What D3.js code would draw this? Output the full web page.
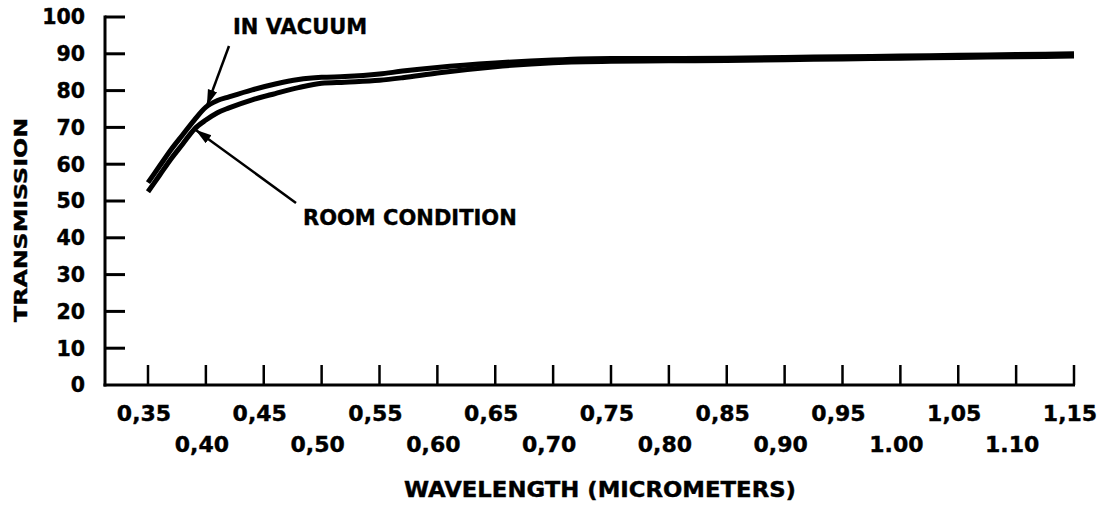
<!DOCTYPE html>
<html>
<head>
<meta charset="utf-8">
<script src="https://cdn.jsdelivr.net/npm/d3@7"></script>
<style>
  body { margin: 0; background: #fff; }
  text { font-family: "DejaVu Sans", sans-serif; font-weight: bold; fill: #000; stroke: #000; stroke-width: 0.4px; }
</style>
</head>
<body>
<div id="chart"></div>
<script>
// Wavelength samples (micrometers) and transmission (%)
var wavelengths = [0.35, 0.36, 0.37, 0.38, 0.39, 0.40, 0.41, 0.42, 0.44, 0.46, 0.48, 0.50, 0.52,
  0.55, 0.57, 0.60, 0.65, 0.70, 0.75, 0.80, 0.85, 0.90, 0.95, 1.00, 1.05, 1.10, 1.15];
var inVacuum = [55, 59.5, 64, 68, 72, 75.5, 77.3, 78.3, 80.2, 81.8, 83.0, 83.6, 83.8,
  84.5, 85.3, 86.3, 87.5, 88.3, 88.7, 88.7, 88.8, 89.0, 89.2, 89.4, 89.6, 89.8, 90.0];
var roomCondition = [52.5, 57, 61.5, 65.5, 69.5, 72, 74, 75.3, 77.5, 79.2, 80.8, 82.0, 82.3,
  82.8, 83.5, 84.8, 86.5, 87.6, 88.0, 88.1, 88.2, 88.4, 88.6, 88.8, 89.0, 89.2, 89.4];

var yTicks = [0, 10, 20, 30, 40, 50, 60, 70, 80, 90, 100];
var xTicks = [0.35, 0.40, 0.45, 0.50, 0.55, 0.60, 0.65, 0.70, 0.75, 0.80,
  0.85, 0.90, 0.95, 1.00, 1.05, 1.10, 1.15];
var xTickLabels = ["0,35", "0,40", "0,45", "0,50", "0,55", "0,60", "0,65", "0,70", "0,75", "0,80",
  "0,85", "0,90", "0,95", "1.00", "1,05", "1.10", "1,15"];

var svgWidth = 1109;
var svgHeight = 506;

var svg = d3.select("#chart")
  .append("svg")
  .attr("width", svgWidth)
  .attr("height", svgHeight);

// scales: pixel positions taken from the reference axes
var xScale = d3.scaleLinear()
  .domain([0.35, 1.15])
  .range([148, 1074]);

var yScale = d3.scaleLinear()
  .domain([0, 100])
  .range([385, 17]);

var axisLeftX = 105;

// y axis line and ticks
svg.append("line")
  .attr("x1", axisLeftX).attr("x2", axisLeftX)
  .attr("y1", yScale(100) - 1.5).attr("y2", yScale(0) + 1.5)
  .attr("stroke", "#000").attr("stroke-width", 3);

svg.selectAll(".ytick")
  .data(yTicks.filter(d => d > 0))
  .enter()
  .append("line")
  .attr("class", "ytick")
  .attr("x1", axisLeftX).attr("x2", axisLeftX + 20)
  .attr("y1", d => yScale(d)).attr("y2", d => yScale(d))
  .attr("stroke", "#000").attr("stroke-width", 3);

svg.selectAll(".ylabel")
  .data(yTicks)
  .enter()
  .append("text")
  .attr("class", "ylabel")
  .attr("x", 85)
  .attr("y", d => yScale(d))
  .attr("dy", "0.36em")
  .attr("text-anchor", "end")
  .attr("font-size", "20.5px")
  .text(d => d);

// x axis line and ticks
svg.append("line")
  .attr("x1", axisLeftX - 1.5).attr("x2", xScale(1.15) + 1)
  .attr("y1", yScale(0)).attr("y2", yScale(0))
  .attr("stroke", "#000").attr("stroke-width", 3);

svg.selectAll(".xtick")
  .data(xTicks)
  .enter()
  .append("line")
  .attr("class", "xtick")
  .attr("x1", d => xScale(d)).attr("x2", d => xScale(d))
  .attr("y1", yScale(0)).attr("y2", yScale(0) - 20)
  .attr("stroke", "#000").attr("stroke-width", 2.5);

// tick labels alternate between two rows
svg.selectAll(".xlabel")
  .data(xTicks)
  .enter()
  .append("text")
  .attr("class", "xlabel")
  .attr("x", d => xScale(d) - 4)
  .attr("y", (d, i) => i % 2 === 0 ? 421 : 452)
  .attr("text-anchor", "middle")
  .attr("font-size", "22px")
  .text((d, i) => xTickLabels[i]);

// axis titles
svg.append("text")
  .attr("x", 600)
  .attr("y", 497)
  .attr("text-anchor", "middle")
  .attr("font-size", "21px")
  .attr("textLength", 392)
  .attr("lengthAdjust", "spacingAndGlyphs")
  .text("WAVELENGTH (MICROMETERS)");

svg.append("text")
  .attr("transform", "translate(27, 220) rotate(-90)")
  .attr("text-anchor", "middle")
  .attr("font-size", "18px")
  .attr("textLength", 204)
  .attr("lengthAdjust", "spacingAndGlyphs")
  .text("TRANSMISSION");

// the two transmission curves
var line = d3.line()
  .x((d, i) => xScale(wavelengths[i]))
  .y(d => yScale(d))
  .curve(d3.curveMonotoneX);

[inVacuum, roomCondition].forEach(function(series) {
  svg.append("path")
    .datum(series)
    .attr("d", line)
    .attr("fill", "none")
    .attr("stroke", "#000")
    .attr("stroke-width", 5)
    .attr("stroke-linejoin", "round");
});

// annotation arrows
svg.append("defs")
  .append("marker")
  .attr("id", "arrow")
  .attr("viewBox", "0 0 10 10")
  .attr("refX", 10).attr("refY", 5)
  .attr("markerWidth", 6.5).attr("markerHeight", 6.5)
  .attr("markerUnits", "strokeWidth")
  .attr("orient", "auto")
  .append("path")
  .attr("d", "M0,2 L10,5 L0,8 Z")
  .attr("fill", "#000");

function arrow(x1, y1, x2, y2) {
  svg.append("line")
    .attr("x1", x1).attr("y1", y1)
    .attr("x2", x2).attr("y2", y2)
    .attr("stroke", "#000")
    .attr("stroke-width", 2.5)
    .attr("marker-end", "url(#arrow)");
}

arrow(229, 46, xScale(0.40) + 1, yScale(76.4) + 2);
arrow(296, 203, xScale(0.391), yScale(70.2) + 3);

svg.append("text")
  .attr("x", 233)
  .attr("y", 34)
  .attr("font-size", "21px")
  .text("IN VACUUM");

svg.append("text")
  .attr("x", 303)
  .attr("y", 225)
  .attr("font-size", "21px")
  .text("ROOM CONDITION");
</script>
</body>
</html>
